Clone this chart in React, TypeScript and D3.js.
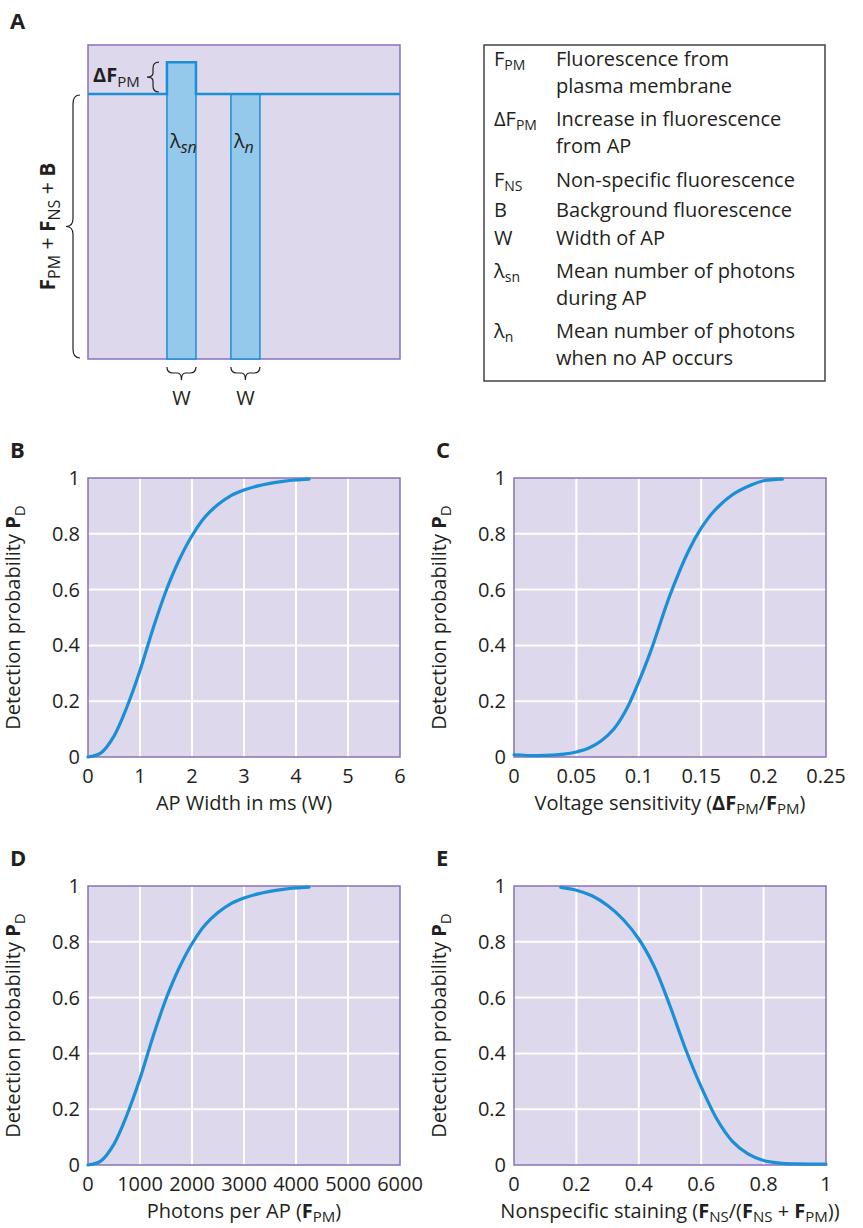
import React from "react";
import * as d3 from "d3";

// ---- data ----
const widthMs = [0, 0.25, 0.5, 0.75, 1, 1.25, 1.5, 1.75, 2, 2.25, 2.5, 2.75, 3, 3.25, 3.5, 3.75, 4, 4.25];
const widthPd = [0, 0.015, 0.075, 0.18, 0.31, 0.46, 0.595, 0.705, 0.793, 0.86, 0.905, 0.937, 0.957, 0.971, 0.981, 0.988, 0.993, 0.996];

const sensX = [0, 0.02, 0.04, 0.05, 0.06, 0.07, 0.08, 0.09, 0.1, 0.11, 0.125, 0.14, 0.15, 0.16, 0.175, 0.19, 0.2, 0.215];
const sensPd = [0.008, 0.005, 0.01, 0.018, 0.032, 0.058, 0.1, 0.17, 0.27, 0.385, 0.58, 0.74, 0.82, 0.88, 0.94, 0.975, 0.99, 0.996];

const photons = [0, 250, 500, 750, 1000, 1250, 1500, 1750, 2000, 2250, 2500, 2750, 3000, 3250, 3500, 3750, 4000, 4250];
const photonPd = [0, 0.015, 0.075, 0.18, 0.31, 0.46, 0.595, 0.705, 0.793, 0.86, 0.905, 0.937, 0.957, 0.971, 0.981, 0.988, 0.993, 0.996];

const nsX = [0.15, 0.2, 0.25, 0.3, 0.35, 0.4, 0.45, 0.5, 0.55, 0.6, 0.65, 0.7, 0.75, 0.8, 0.85, 0.9, 1.0];
const nsPd = [0.995, 0.985, 0.965, 0.93, 0.88, 0.81, 0.71, 0.57, 0.415, 0.28, 0.165, 0.085, 0.04, 0.016, 0.007, 0.004, 0.003];

const yTicks = [0, 0.2, 0.4, 0.6, 0.8, 1];
const widthTicks = [0, 1, 2, 3, 4, 5, 6];
const sensTicks = [0, 0.05, 0.1, 0.15, 0.2, 0.25];
const photonTicks = [0, 1000, 2000, 3000, 4000, 5000, 6000];
const nsTicks = [0, 0.2, 0.4, 0.6, 0.8, 1];

// schematic in panel A (arbitrary units: time 0-100, signal level 0-1.185)
const baseLevel = 1;
const peakLevel = 1.12;
const boxTop = 1.185;
const bars = [
  { start: 25.3, width: 9.3, top: peakLevel, sym: "λ", sub: "sn" },
  { start: 45.8, width: 9.3, top: baseLevel, sym: "λ", sub: "n" },
];

const legendRows = [
  { sym: "F", sub: "PM", lines: ["Fluorescence from", "plasma membrane"] },
  { sym: "ΔF", sub: "PM", lines: ["Increase in fluorescence", "from AP"] },
  { sym: "F", sub: "NS", lines: ["Non-specific fluorescence"] },
  { sym: "B", sub: "", lines: ["Background fluorescence"] },
  { sym: "W", sub: "", lines: ["Width of AP"] },
  { sym: "λ", sub: "sn", lines: ["Mean number of photons", "during AP"] },
  { sym: "λ", sub: "n", lines: ["Mean number of photons", "when no AP occurs"] },
];

const FONT = "'Open Sans', Lato, sans-serif";
const BG = "#ddd8ec";
const FRAME = "#8a72b6";
const BLUE = "#1a8fd6";
const TEXT = "#231f20";
const FS = 20;

function Sub({ children, size = 15 }: { children: React.ReactNode; size?: number }) {
  return (
    <tspan fontSize={size} dy={4}>
      {children}
    </tspan>
  );
}

function YLabel({ x, y }: { x: number; y: number }) {
  return (
    <text x={x} y={y} transform={`rotate(-90 ${x} ${y})`} textAnchor="middle" fontSize={FS} fill={TEXT}>
      Detection probability{" "}
      <tspan fontWeight="bold">P</tspan>
      <tspan fontSize={15} dy={5}>D</tspan>
    </text>
  );
}

type PlotProps = {
  left: number;
  top: number;
  xs: number[];
  ys: number[];
  xDomain: [number, number];
  xTicks: number[];
  label: React.ReactNode;
  letter: string;
};

function Plot({ left, top, xs, ys, xDomain, xTicks, label, letter }: PlotProps) {
  const w = 312;
  const h = 279;
  const x = d3.scaleLinear().domain(xDomain).range([left, left + w]);
  const y = d3.scaleLinear().domain([0, 1]).range([top + h, top]);
  const line = d3
    .line<number>()
    .x((d, i) => x(xs[i]))
    .y((d) => y(d))
    .curve(d3.curveCatmullRom.alpha(0.5));
  return (
    <g fontFamily={FONT}>
      <text x={left - 78} y={top - 20} fontSize={22} fontWeight="bold" fill={TEXT}>
        {letter}
      </text>
      <rect x={left} y={top} width={w} height={h} fill={BG} />
      {xTicks.slice(1, -1).map((t) => (
        <line key={"gx" + t} x1={x(t)} x2={x(t)} y1={top} y2={top + h} stroke="#fff" strokeWidth={2} />
      ))}
      {yTicks.slice(1, -1).map((t) => (
        <line key={"gy" + t} x1={left} x2={left + w} y1={y(t)} y2={y(t)} stroke="#fff" strokeWidth={2} />
      ))}
      <rect x={left} y={top} width={w} height={h} fill="none" stroke={FRAME} strokeWidth={1.5} />
      <path d={line(ys) || ""} fill="none" stroke={BLUE} strokeWidth={3.2} strokeLinecap="round" />
      {yTicks.map((t) => (
        <text key={"ty" + t} x={left - 8} y={y(t) + 7} textAnchor="end" fontSize={FS} fill={TEXT}>
          {d3.format("~g")(t)}
        </text>
      ))}
      {xTicks.map((t) => (
        <text key={"tx" + t} x={x(t)} y={top + h + 26} textAnchor="middle" fontSize={FS} fill={TEXT}>
          {d3.format("~g")(t)}
        </text>
      ))}
      <text x={left + w / 2} y={top + h + 53} textAnchor="middle" fontSize={FS} fill={TEXT}>
        {label}
      </text>
      <YLabel x={left - 68} y={top + h / 2} />
    </g>
  );
}

function PanelA() {
  const x = d3.scaleLinear().domain([0, 100]).range([88, 400]);
  const y = d3.scaleLinear().domain([0, baseLevel]).range([359, 94]);
  const b1 = bars[0];
  const trace = [
    [0, baseLevel],
    [b1.start, baseLevel],
    [b1.start, b1.top],
    [b1.start + b1.width, b1.top],
    [b1.start + b1.width, baseLevel],
    [100, baseLevel],
  ] as [number, number][];
  const traceLine = d3
    .line<[number, number]>()
    .x((d) => x(d[0]))
    .y((d) => y(d[1]));
  const yb = y(0);
  const yl = y(baseLevel);
  // left brace
  const bx = 80;
  const mid = (yl + yb) / 2;
  const bigBrace = `M${bx},${yl + 1} Q${bx - 7},${yl + 1} ${bx - 7},${yl + 10} L${bx - 7},${mid - 8} Q${bx - 7},${mid} ${bx - 14},${mid} Q${bx - 7},${mid} ${bx - 7},${mid + 8} L${bx - 7},${yb - 10} Q${bx - 7},${yb - 1} ${bx},${yb - 1}`;
  const sTop = y(b1.top);
  const sBot = yl - 2;
  const sMid = (sTop + sBot) / 2;
  const sx = 159;
  const smallBrace = `M${sx},${sTop} Q${sx - 6},${sTop} ${sx - 6},${sTop + 6} L${sx - 6},${sMid - 4} Q${sx - 6},${sMid} ${sx - 12},${sMid} Q${sx - 6},${sMid} ${sx - 6},${sMid + 4} L${sx - 6},${sBot - 6} Q${sx - 6},${sBot} ${sx},${sBot}`;
  return (
    <g fontFamily={FONT} fill={TEXT}>
      <text x={10} y={29} fontSize={22} fontWeight="bold">A</text>
      <rect x={x(0)} y={y(boxTop)} width={x(100) - x(0)} height={yb - y(boxTop)} fill={BG} stroke={FRAME} strokeWidth={1.5} />
      {bars.map((b, i) => {
        const l = x(b.start);
        const r = x(b.start + b.width);
        const c = (l + r) / 2;
        return (
          <g key={i}>
            <rect x={l} y={y(b.top)} width={r - l} height={yb - y(b.top)} fill="#94c9ec" stroke={BLUE} strokeWidth={1.5} />
            <text x={l + 3} y={148} fontSize={FS}>
              {b.sym}
              <tspan fontSize={16} fontStyle="italic" dy={5}>{b.sub}</tspan>
            </text>
            <path
              d={`M${l},${yb + 8} Q${l},${yb + 14} ${l + 6},${yb + 14} L${c - 4},${yb + 14} Q${c},${yb + 14} ${c},${yb + 21} Q${c},${yb + 14} ${c + 4},${yb + 14} L${r - 6},${yb + 14} Q${r},${yb + 14} ${r},${yb + 8}`}
              fill="none"
              stroke={TEXT}
              strokeWidth={1.2}
            />
            <text x={c} y={405} fontSize={FS} textAnchor="middle">W</text>
          </g>
        );
      })}
      <path d={traceLine(trace) || ""} fill="none" stroke={BLUE} strokeWidth={2.5} />
      <path d={bigBrace} fill="none" stroke={TEXT} strokeWidth={1.2} />
      <path d={smallBrace} fill="none" stroke={TEXT} strokeWidth={1.2} />
      <text x={93} y={82} fontSize={FS}>
        <tspan fontWeight="bold">ΔF</tspan>
        <tspan fontSize={15} dy={5}>PM</tspan>
      </text>
      <text x={55} y={mid} transform={`rotate(-90 55 ${mid})`} textAnchor="middle" fontSize={21}>
        <tspan fontWeight="bold">F</tspan>
        <tspan fontSize={16} dy={5}>PM</tspan>
        <tspan dy={-5}> + </tspan>
        <tspan fontWeight="bold">F</tspan>
        <tspan fontSize={16} dy={5}>NS</tspan>
        <tspan dy={-5}> + </tspan>
        <tspan fontWeight="bold">B</tspan>
      </text>
    </g>
  );
}

function Legend() {
  const left = 484;
  const top = 45;
  const right = 825;
  const bottom = 381;
  const rowStarts = [66, 126, 187, 217, 245, 278, 338];
  return (
    <g fontFamily={FONT} fill={TEXT} fontSize={FS}>
      <rect x={left} y={top} width={right - left} height={bottom - top} fill="#fff" stroke="#444" strokeWidth={1.5} />
      {legendRows.map((r, i) => (
        <g key={i}>
          <text x={494} y={rowStarts[i]}>
            {r.sym}
            {r.sub && <tspan fontSize={14} dy={4}>{r.sub}</tspan>}
          </text>
          {r.lines.map((l, j) => (
            <text key={j} x={556} y={rowStarts[i] + j * 27}>
              {l}
            </text>
          ))}
        </g>
      ))}
    </g>
  );
}

export default function App() {
  return (
    <svg width={863} height={1228} style={{ position: "absolute", left: 0, top: 0, background: "#fff" }}>
      <PanelA />
      <Legend />
      <Plot
        left={88}
        top={478}
        xs={widthMs}
        ys={widthPd}
        xDomain={[0, 6]}
        xTicks={widthTicks}
        letter="B"
        label="AP Width in ms (W)"
      />
      <Plot
        left={514}
        top={478}
        xs={sensX}
        ys={sensPd}
        xDomain={[0, 0.25]}
        xTicks={sensTicks}
        letter="C"
        label={
          <>
            Voltage sensitivity (<tspan fontWeight="bold">ΔF</tspan>
            <Sub>PM</Sub>
            <tspan dy={-4}>/</tspan>
            <tspan fontWeight="bold">F</tspan>
            <Sub>PM</Sub>
            <tspan dy={-4}>)</tspan>
          </>
        }
      />
      <Plot
        left={88}
        top={886}
        xs={photons}
        ys={photonPd}
        xDomain={[0, 6000]}
        xTicks={photonTicks}
        letter="D"
        label={
          <>
            Photons per AP (<tspan fontWeight="bold">F</tspan>
            <Sub>PM</Sub>
            <tspan dy={-4}>)</tspan>
          </>
        }
      />
      <Plot
        left={514}
        top={886}
        xs={nsX}
        ys={nsPd}
        xDomain={[0, 1]}
        xTicks={nsTicks}
        letter="E"
        label={
          <>
            Nonspecific staining (<tspan fontWeight="bold">F</tspan>
            <Sub>NS</Sub>
            <tspan dy={-4}>/(</tspan>
            <tspan fontWeight="bold">F</tspan>
            <Sub>NS</Sub>
            <tspan dy={-4}> + </tspan>
            <tspan fontWeight="bold">F</tspan>
            <Sub>PM</Sub>
            <tspan dy={-4}>))</tspan>
          </>
        }
      />
    </svg>
  );
}
